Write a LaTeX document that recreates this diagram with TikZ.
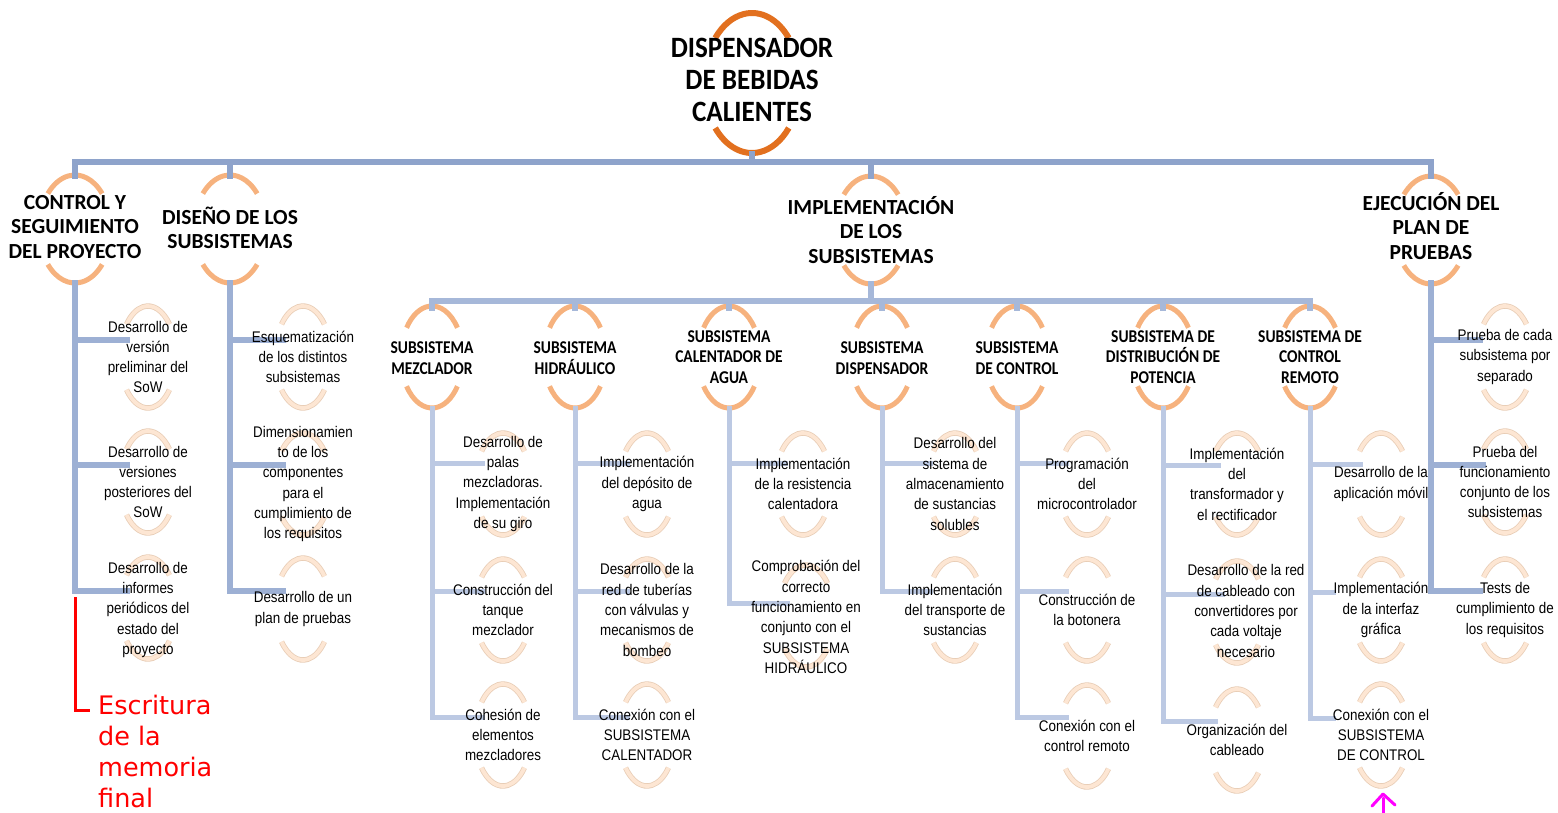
\documentclass[tikz,border=0pt]{standalone}
\usepackage{fontspec}
\setmainfont{Liberation Sans}
\newfontfamily\leaffont[FakeStretch=0.87]{Liberation Sans}
\newfontfamily\titlefont[FakeStretch=0.92]{Carlito}
\newfontfamily\lvfont{Carlito}
\newfontfamily\hdrfont[FakeStretch=0.86]{Carlito}
\newfontfamily\redfont{DejaVu Sans}
\usetikzlibrary{calc}
\definecolor{torange}{HTML}{E2701F}
\definecolor{morange}{HTML}{F6B27E}
\definecolor{lpeach}{HTML}{FDE6D3}
\definecolor{lpeachedge}{HTML}{E8CDB6}
\definecolor{conA}{HTML}{8EA3CB}
\definecolor{conB}{HTML}{9DB0D4}
\definecolor{conC}{HTML}{A6B8D9}
\definecolor{conD}{HTML}{BCC9E3}
\definecolor{magmark}{HTML}{FF00FF}
\pgfdeclarelayer{bg}
\pgfsetlayers{bg,main}
\tikzset{
  titletext/.style={font=\titlefont\bfseries\fontsize{29.5}{32}\selectfont, align=center, inner sep=0pt},
  lvtext/.style={font=\lvfont\bfseries\fontsize{21.5}{24.5}\selectfont, align=center, inner sep=0pt},
  hdrtext/.style={font=\hdrfont\bfseries\fontsize{18}{20.7}\selectfont, align=center, inner sep=0pt},
  leaftext/.style={font=\leaffont\fontsize{15.4}{20.3}\selectfont, align=center, inner sep=0pt},
  redtext/.style={font=\redfont\fontsize{25.5}{31}\selectfont, align=left, inner sep=0pt, text=red, anchor=north west},
  tarc/.style={draw=torange, line width=6pt},
  marc/.style={draw=morange, line width=5pt},
  larc/.style={draw=lpeachedge, line width=0.8pt, double=lpeach, double distance=3.8pt},
  conn/.style={line width=#1, line join=miter, line cap=rect},
  ca/.style={conn=6.5pt, draw=conA},
  cb/.style={conn=6pt, draw=conB},
  cc/.style={conn=6pt, draw=conC},
  cd/.style={conn=5pt, draw=conD},
  redline/.style={draw=red, line width=3pt},
  magline/.style={draw=magmark, line width=3pt, line cap=round, line join=round}
}
% style, centre, rx, ry, a1, a2, a3, a4
\newcommand\twoarcs[8]{%
  \draw[#1] (#2) ++(#5:#3 and #4) arc[start angle=#5, end angle=#6, x radius=#3, y radius=#4];
  \draw[#1] (#2) ++(#7:#3 and #4) arc[start angle=#7, end angle=#8, x radius=#3, y radius=#4];}
\newcommand\leafarcs[1]{\twoarcs{larc}{#1}{28pt}{51pt}{40}{140}{220}{320}}
\newcommand\hdrarcs[1]{\twoarcs{marc}{#1}{31pt}{51pt}{35}{145}{215}{325}}
\newcommand\lvarcs[1]{\twoarcs{marc}{#1}{36pt}{54pt}{41}{139}{221}{319}}
\begin{document}
\begin{tikzpicture}[x=1pt,y=-1pt]
\useasboundingbox (0,0) rectangle (1558,812);
% ---------- nodes ----------
\node[titletext] (title) at (752,80) {DISPENSADOR\\DE BEBIDAS\\CALIENTES};
\node[lvtext] (ctrl) at (75,227) {CONTROL Y\\SEGUIMIENTO\\DEL PROYECTO};
\node[lvtext] (dis) at (230,228) {DISEÑO DE LOS\\SUBSISTEMAS};
\node[lvtext] (impl) at (871,230) {IMPLEMENTACIÓN\\DE LOS\\SUBSISTEMAS};
\node[lvtext] (ejec) at (1431,226) {EJECUCIÓN DEL\\PLAN DE\\PRUEBAS};
% headers
\node[hdrtext] (mez) at (432,358) {SUBSISTEMA\\MEZCLADOR};
\node[hdrtext] (hid) at (575,358) {SUBSISTEMA\\HIDRÁULICO};
\node[hdrtext] (cal) at (729,357) {SUBSISTEMA\\CALENTADOR DE\\AGUA};
\node[hdrtext] (dsp) at (882,358) {SUBSISTEMA\\DISPENSADOR};
\node[hdrtext] (ctl) at (1017,358) {SUBSISTEMA\\DE CONTROL};
\node[hdrtext] (pot) at (1163,357) {SUBSISTEMA DE\\DISTRIBUCIÓN DE\\POTENCIA};
\node[hdrtext] (rem) at (1310,357) {SUBSISTEMA DE\\CONTROL\\REMOTO};
% leaves: control y seguimiento
\node[leaftext] (c1) at (148,357) {Desarrollo de\\versión\\preliminar del\\SoW};
\node[leaftext] (c2) at (148,482) {Desarrollo de\\versiones\\posteriores del\\SoW};
\node[leaftext] (c3) at (148,610) {Desarrollo de\\informes\\periódicos del\\estado del\\proyecto};
% diseño
\node[leaftext] (d1) at (303,357) {Esquematización\\de los distintos\\subsistemas};
\node[leaftext] (d2) at (303,484) {Dimensionamien\\to de los\\componentes\\para el\\cumplimiento de\\los requisitos};
\node[leaftext] (d3) at (303,609) {Desarrollo de un\\plan de pruebas};
% ejecucion
\node[leaftext] (e1) at (1505,357) {Prueba de cada\\subsistema por\\separado};
\node[leaftext] (e2) at (1505,482) {Prueba del\\funcionamiento\\conjunto de los\\subsistemas};
\node[leaftext] (e3) at (1505,610) {Tests de\\cumplimiento de\\los requisitos};
% mezclador
\node[leaftext] (m1) at (503,484) {Desarrollo de\\palas\\mezcladoras.\\Implementación\\de su giro};
\node[leaftext] (m2) at (503,610) {Construcción del\\tanque\\mezclador};
\node[leaftext] (m3) at (503,735) {Cohesión de\\elementos\\mezcladores};
% hidraulico
\node[leaftext] (h1) at (647,484) {Implementación\\del depósito de\\agua};
\node[leaftext] (h2) at (647,610) {Desarrollo de la\\red de tuberías\\con válvulas y\\mecanismos de\\bombeo};
\node[leaftext] (h3) at (647,735) {Conexión con el\\SUBSISTEMA\\CALENTADOR};
% calentador
\node[leaftext] (k1) at (803,484) {Implementación\\de la resistencia\\calentadora};
\node[leaftext] (k2) at (806,617) {Comprobación del\\correcto\\funcionamiento en\\conjunto con el\\SUBSISTEMA\\HIDRÁULICO};
% dispensador
\node[leaftext] (p1) at (955,484) {Desarrollo del\\sistema de\\almacenamiento\\de sustancias\\solubles};
\node[leaftext] (p2) at (955,610) {Implementación\\del transporte de\\sustancias};
% control
\node[leaftext] (q1) at (1087,484) {Programación\\del\\microcontrolador};
\node[leaftext] (q2) at (1087,610) {Construcción de\\la botonera};
\node[leaftext] (q3) at (1087,736) {Conexión con el\\control remoto};
% potencia
\node[leaftext] (r1) at (1237,484) {Implementación\\del\\transformador y\\el rectificador};
\node[leaftext] (r2) at (1246,611) {Desarrollo de la red\\de cableado con\\convertidores por\\cada voltaje\\necesario};
\node[leaftext] (r3) at (1237,740) {Organización del\\cableado};
% remoto
\node[leaftext] (s1) at (1381,484) {Desarrollo de la\\aplicación móvil};
\node[leaftext] (s2) at (1381,610) {Implementación\\de la interfaz\\gráfica};
\node[leaftext] (s3) at (1381,735) {Conexión con el\\SUBSISTEMA\\DE CONTROL};
% red note
\node[redtext] (esc) at (98,695) {Escritura\\de la\\memoria\\final};
% ---------- branch ends ----------
\coordinate (c1b) at (127,340); \coordinate (c2b) at (127,465); \coordinate (c3b) at (127,591);
\coordinate (d1b) at (283,340); \coordinate (d2b) at (283,465); \coordinate (d3b) at (283,591);
\coordinate (e1b) at (1480,340); \coordinate (e2b) at (1483,465); \coordinate (e3b) at (1480,591);
\coordinate (m1b) at (482,463); \coordinate (m2b) at (482,591); \coordinate (m3b) at (482,717);
\coordinate (h1b) at (627,463); \coordinate (h2b) at (627,591); \coordinate (h3b) at (627,717);
\coordinate (k1b) at (785,463); \coordinate (k2b) at (787,603);
\coordinate (p1b) at (930,463); \coordinate (p2b) at (930,591);
\coordinate (q1b) at (1066,463); \coordinate (q2b) at (1066,591); \coordinate (q3b) at (1066,717);
\coordinate (r1b) at (1218,465); \coordinate (r2b) at (1222,594); \coordinate (r3b) at (1215,721);
\coordinate (s1b) at (1360,464); \coordinate (s2b) at (1333,592); \coordinate (s3b) at (1333,718);
\coordinate (redstart) at (75,597); \coordinate (redend) at (90,710);
% ---------- background: arcs and connectors ----------
\begin{pgfonlayer}{bg}
\twoarcs{tarc}{[yshift=-3pt]title}{48pt}{70pt}{40}{140}{220}{320}
\lvarcs{[yshift=-2pt]ctrl}
\lvarcs{[yshift=-1pt]dis}
\lvarcs{impl}
\lvarcs{[yshift=-4pt]ejec}
\foreach \n in {mez,hid,dsp,ctl} {\hdrarcs{[yshift=1pt]\n}}
\foreach \n in {cal,pot,rem} {\hdrarcs{\n}}
\foreach \n in {c1,c2,d1,d2,e1,e2,e3,m1,m2,m3,h1,h2,h3,k1,p1,p2,q1,q2,q3,r1,r3,s1,s2,s3} {\leafarcs{\n}}
\leafarcs{[yshift=2pt]c3}
\leafarcs{d3}
\leafarcs{[yshift=1pt]k2}
\leafarcs{[xshift=-9pt,yshift=-1pt]r2}
% top level
\draw[ca] (title.center |- 0,154) -- (title.center |- 0,162);
\draw[ca] (ctrl.center |- 0,176) |- (ejec.center |- 0,162) -- (ejec.center |- 0,176);
\draw[ca] (dis.center |- 0,162) -- (dis.center |- 0,176);
\draw[ca] (impl.center |- 0,162) -- (impl.center |- 0,176);
% level 2 columns
\draw[cb] (ctrl.center |- 0,283) |- (c3b);
\draw[cb] (c1b -| ctrl.center) -- (c1b);
\draw[cb] (c2b -| ctrl.center) -- (c2b);
\draw[cb] (dis.center |- 0,283) |- (d3b);
\draw[cb] (d1b -| dis.center) -- (d1b);
\draw[cb] (d2b -| dis.center) -- (d2b);
\draw[cb] (ejec.center |- 0,283) |- (e3b);
\draw[cb] (e1b -| ejec.center) -- (e1b);
\draw[cb] (e2b -| ejec.center) -- (e2b);
% implementation bar
\draw[cc] (impl.center |- 0,284) -- (impl.center |- 0,301);
\draw[cc] (mez.center |- 0,308) |- (rem.center |- 0,301) -- (rem.center |- 0,308);
\foreach \n in {hid,cal,dsp,ctl,pot} {\draw[cc] (\n.center |- 0,301) -- (\n.center |- 0,308);}
% subsystem columns
\draw[cd] (mez.center |- 0,408) |- (m3b);
\draw[cd] (m1b -| mez.center) -- (m1b);
\draw[cd] (m2b -| mez.center) -- (m2b);
\draw[cd] (hid.center |- 0,408) |- (h3b);
\draw[cd] (h1b -| hid.center) -- (h1b);
\draw[cd] (h2b -| hid.center) -- (h2b);
\draw[cd] (cal.center |- 0,408) |- (k2b);
\draw[cd] (k1b -| cal.center) -- (k1b);
\draw[cd] (dsp.center |- 0,408) |- (p2b);
\draw[cd] (p1b -| dsp.center) -- (p1b);
\draw[cd] (ctl.center |- 0,408) |- (q3b);
\draw[cd] (q1b -| ctl.center) -- (q1b);
\draw[cd] (q2b -| ctl.center) -- (q2b);
\draw[cd] (pot.center |- 0,408) |- (r3b);
\draw[cd] (r1b -| pot.center) -- (r1b);
\draw[cd] (r2b -| pot.center) -- (r2b);
\draw[cd] (rem.center |- 0,408) |- (s3b);
\draw[cd] (s1b -| rem.center) -- (s1b);
\draw[cd] (s2b -| rem.center) -- (s2b);
% red note line
\draw[redline] (redstart) |- (redend);
\end{pgfonlayer}
% magenta mark
\draw[magline] (1372,806) -- (1383,794) -- (1395,805);
\draw[magline] (1383,798) -- (1383,814);
\end{tikzpicture}
\end{document}
